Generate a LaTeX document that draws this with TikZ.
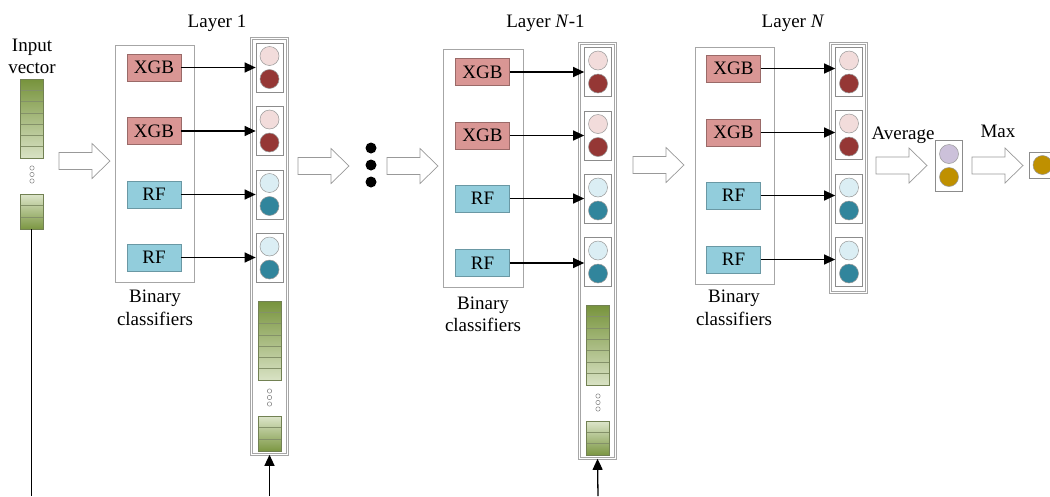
\documentclass[tikz,border=0pt]{standalone}
\usepackage{fontspec}
\setmainfont{Liberation Serif}
\usetikzlibrary{arrows.meta,calc,fit}

\definecolor{xgbfill}{HTML}{D99694}
\definecolor{xgbdraw}{HTML}{9A6A68}
\definecolor{rffill}{HTML}{92CDDC}
\definecolor{rfdraw}{HTML}{6A98A4}
\definecolor{redlight}{HTML}{F2DCDB}
\definecolor{reddark}{HTML}{953735}
\definecolor{bluelight}{HTML}{DBEEF4}
\definecolor{bluedark}{HTML}{31859C}
\definecolor{avgpurple}{HTML}{CCC1DA}
\definecolor{avggold}{HTML}{BF9000}
\definecolor{barG}{HTML}{77933C}
\definecolor{barL}{HTML}{EBF1DE}
\definecolor{barline}{HTML}{4F6228}

% output cell with a light and a dark probability circle
\newcommand\outcell[5]{%
  \node[cell] (#1) at (#2,#3) {};
  \node[ball, fill=#4] (#1a) at ($(#1.center)+(0,-11.5)$) {};
  \node[ball, fill=#5] (#1b) at ($(#1.center)+(0,11.5)$) {};
}

% feature bar: name, x left, y top, y bottom, cells, start pct, step pct
\newcommand\featbar[7]{%
  \pgfmathsetmacro\cellh{(#4-#3)/#5}
  \foreach \i in {1,...,#5}{
    \pgfmathtruncatemacro\pa{#6+(\i-1)*#7}
    \pgfmathtruncatemacro\pb{#6+\i*#7}
    \pgfmathsetmacro\ya{#3+(\i-1)*\cellh}
    \pgfmathsetmacro\yb{#3+\i*\cellh}
    \shade[top color=barG!\pa!barL, bottom color=barG!\pb!barL]
      (#2,\ya) rectangle (#2+23,\yb);
    \draw[barline!70, line width=0.6pt] (#2,\ya) rectangle (#2+23,\yb);
  }
  \node[fit={(#2,#3) (#2+23,#4)}, inner sep=0, draw=barline!80, line width=0.6pt] (#1) {};
}

% three small hollow dots
\newcommand\smalldots[2]{%
  \foreach \k in {0,1,2}{
    \draw[black!50, line width=0.5pt, fill=white] (#1,#2+\k*6.5) circle (2.2);
  }
}

\begin{document}
\begin{tikzpicture}[x=1pt,y=-1pt,
  font=\fontsize{19}{23}\selectfont,
  frame/.style={draw=black!35, line width=0.8pt, inner sep=0},
  colframe/.style={draw=black!35, line width=0.6pt, double=white,
    double distance=1.4pt, inner sep=0},
  clf/.style={minimum width=54pt, minimum height=27pt, inner sep=0, line width=0.7pt},
  xgb/.style={clf, fill=xgbfill, draw=xgbdraw},
  rf/.style={clf, fill=rffill, draw=rfdraw},
  cell/.style={draw=black!45, line width=0.7pt, fill=white, minimum width=27pt,
    minimum height=49pt, inner sep=0},
  ball/.style={circle, draw=black!40, line width=0.5pt, minimum size=19pt, inner sep=0},
  link/.style={line width=1.3pt, -{Triangle[length=11pt,width=10pt,fill=black]}},
  lbl/.style={anchor=base, inner sep=0},
  fatarrow/.pic={\draw[black!40, line width=0.7pt, fill=white]
    (0,-8.5) -- (33,-8.5) -- (33,-17.5) -- (51,0) -- (33,17.5) -- (33,8.5) -- (0,8.5) -- cycle;},
]
\useasboundingbox (0,0) rectangle (1050,496);
\clip (0,0) rectangle (1050,496);

% ---------- input vector ----------
\node[lbl] (inA) at (32,51) {Input};
\node[lbl] (inB) at (32,73) {vector};
\featbar{invec}{20}{79}{158}{7}{100}{-12}
\smalldots{32}{168}
\featbar{invecb}{20}{194}{229}{3}{12}{28}
\coordinate (inbase) at (31.5,496);
\draw[line width=1.3pt] (invecb.south) -- (inbase);

\pic at (59,161) {fatarrow};

% ---------- layer 1 ----------
\node[lbl] (L1) at (217,27) {Layer 1};
\node[frame, fit={(115,45) (194,282)}] (f1) {};
\node[xgb] (a1) at (154,67.5) {XGB};
\node[xgb] (a2) at (154,131) {XGB};
\node[rf]  (a3) at (154,194.5) {RF};
\node[rf]  (a4) at (154,257.5) {RF};
\node[lbl] (b1a) at (155,302) {Binary};
\node[lbl] (b1b) at (155,325) {classifiers};
\node[colframe, fit={(251.5,38.5) (287.5,454.5)}] (col1) {};
\outcell{c11}{269.5}{67.5}{redlight}{reddark}
\outcell{c12}{269.5}{131}{redlight}{reddark}
\outcell{c13}{269.5}{194.5}{bluelight}{bluedark}
\outcell{c14}{269.5}{258}{bluelight}{bluedark}
\foreach \s/\c in {a1/c11,a2/c12,a3/c13,a4/c14}
  \draw[link] (\s.east) -- (\s.east -| \c.west);
\featbar{v1}{258}{301}{380}{7}{100}{-12}
\smalldots{269.5}{391}
\featbar{v1b}{258}{416}{451}{3}{12}{28}
\coordinate (base1) at (269.5,496);
\draw[link] (base1) -- (col1.south);

\pic at (298,166) {fatarrow};
\foreach \k/\yy in {0/148,1/165,2/182}
  \fill (371,\yy) circle (5.5);
\pic at (387,166) {fatarrow};

% ---------- layer N-1 ----------
\node[lbl] (LN1) at (545.5,27) {Layer \textit{N}-1};
\node[frame, fit={(443,49) (523,287)}] (f2) {};
\node[xgb] (d1) at (482.5,72) {XGB};
\node[xgb] (d2) at (482.5,135.5) {XGB};
\node[rf]  (d3) at (482.5,198.5) {RF};
\node[rf]  (d4) at (482.5,263) {RF};
\node[lbl] (b2a) at (483,309) {Binary};
\node[lbl] (b2b) at (483,331) {classifiers};
\node[colframe, fit={(579.5,43.5) (615.5,458.5)}] (col2) {};
\outcell{c21}{598}{72}{redlight}{reddark}
\outcell{c22}{598}{135.5}{redlight}{reddark}
\outcell{c23}{598}{199}{bluelight}{bluedark}
\outcell{c24}{598}{262}{bluelight}{bluedark}
\foreach \s/\c in {d1/c21,d2/c22,d3/c23,d4/c24}
  \draw[link] (\s.east) -- (\s.east -| \c.west);
\featbar{v2}{586.5}{305}{385}{7}{100}{-12}
\smalldots{598}{396}
\featbar{v2b}{586.5}{421}{455}{3}{12}{28}
\coordinate (base2) at (598,496);
\draw[link] (base2) -- (col2.south);

\pic at (633,165) {fatarrow};

% ---------- layer N ----------
\node[lbl] (LN) at (793,27) {Layer \textit{N}};
\node[frame, fit={(695,47) (774,284)}] (f3) {};
\node[xgb] (e1) at (733.5,68.5) {XGB};
\node[xgb] (e2) at (733.5,132.5) {XGB};
\node[rf]  (e3) at (733.5,195.5) {RF};
\node[rf]  (e4) at (733.5,259.5) {RF};
\node[lbl] (b3a) at (734,302) {Binary};
\node[lbl] (b3b) at (734,325) {classifiers};
\node[colframe, fit={(830.5,43.5) (866.5,292.5)}] (col3) {};
\outcell{c31}{849}{72}{redlight}{reddark}
\outcell{c32}{849}{135}{redlight}{reddark}
\outcell{c33}{849}{199}{bluelight}{bluedark}
\outcell{c34}{849}{262}{bluelight}{bluedark}
\foreach \s/\c in {e1/c31,e2/c32,e3/c33,e4/c34}
  \draw[link] (\s.east) -- (\s.east -| \c.west);

% ---------- averaging and max ----------
\node[lbl] (avg) at (903,139) {Average};
\pic at (876,165.5) {fatarrow};
\node[cell, minimum height=51pt] (res) at (949,165.5) {};
\node[ball, fill=avgpurple] (resa) at ($(res.center)+(0,-11.5)$) {};
\node[ball, fill=avggold] (resb) at ($(res.center)+(0,11.5)$) {};

\node[lbl] (mx) at (998,137) {Max};
\pic at (972,165.5) {fatarrow};
\node[draw=black!45, line width=0.7pt, fill=white, fit={(1029,152) (1060,178)}, inner sep=0] (fin) {};
\node[ball, fill=avggold] (fina) at (1042.5,165) {};
\end{tikzpicture}
\end{document}
